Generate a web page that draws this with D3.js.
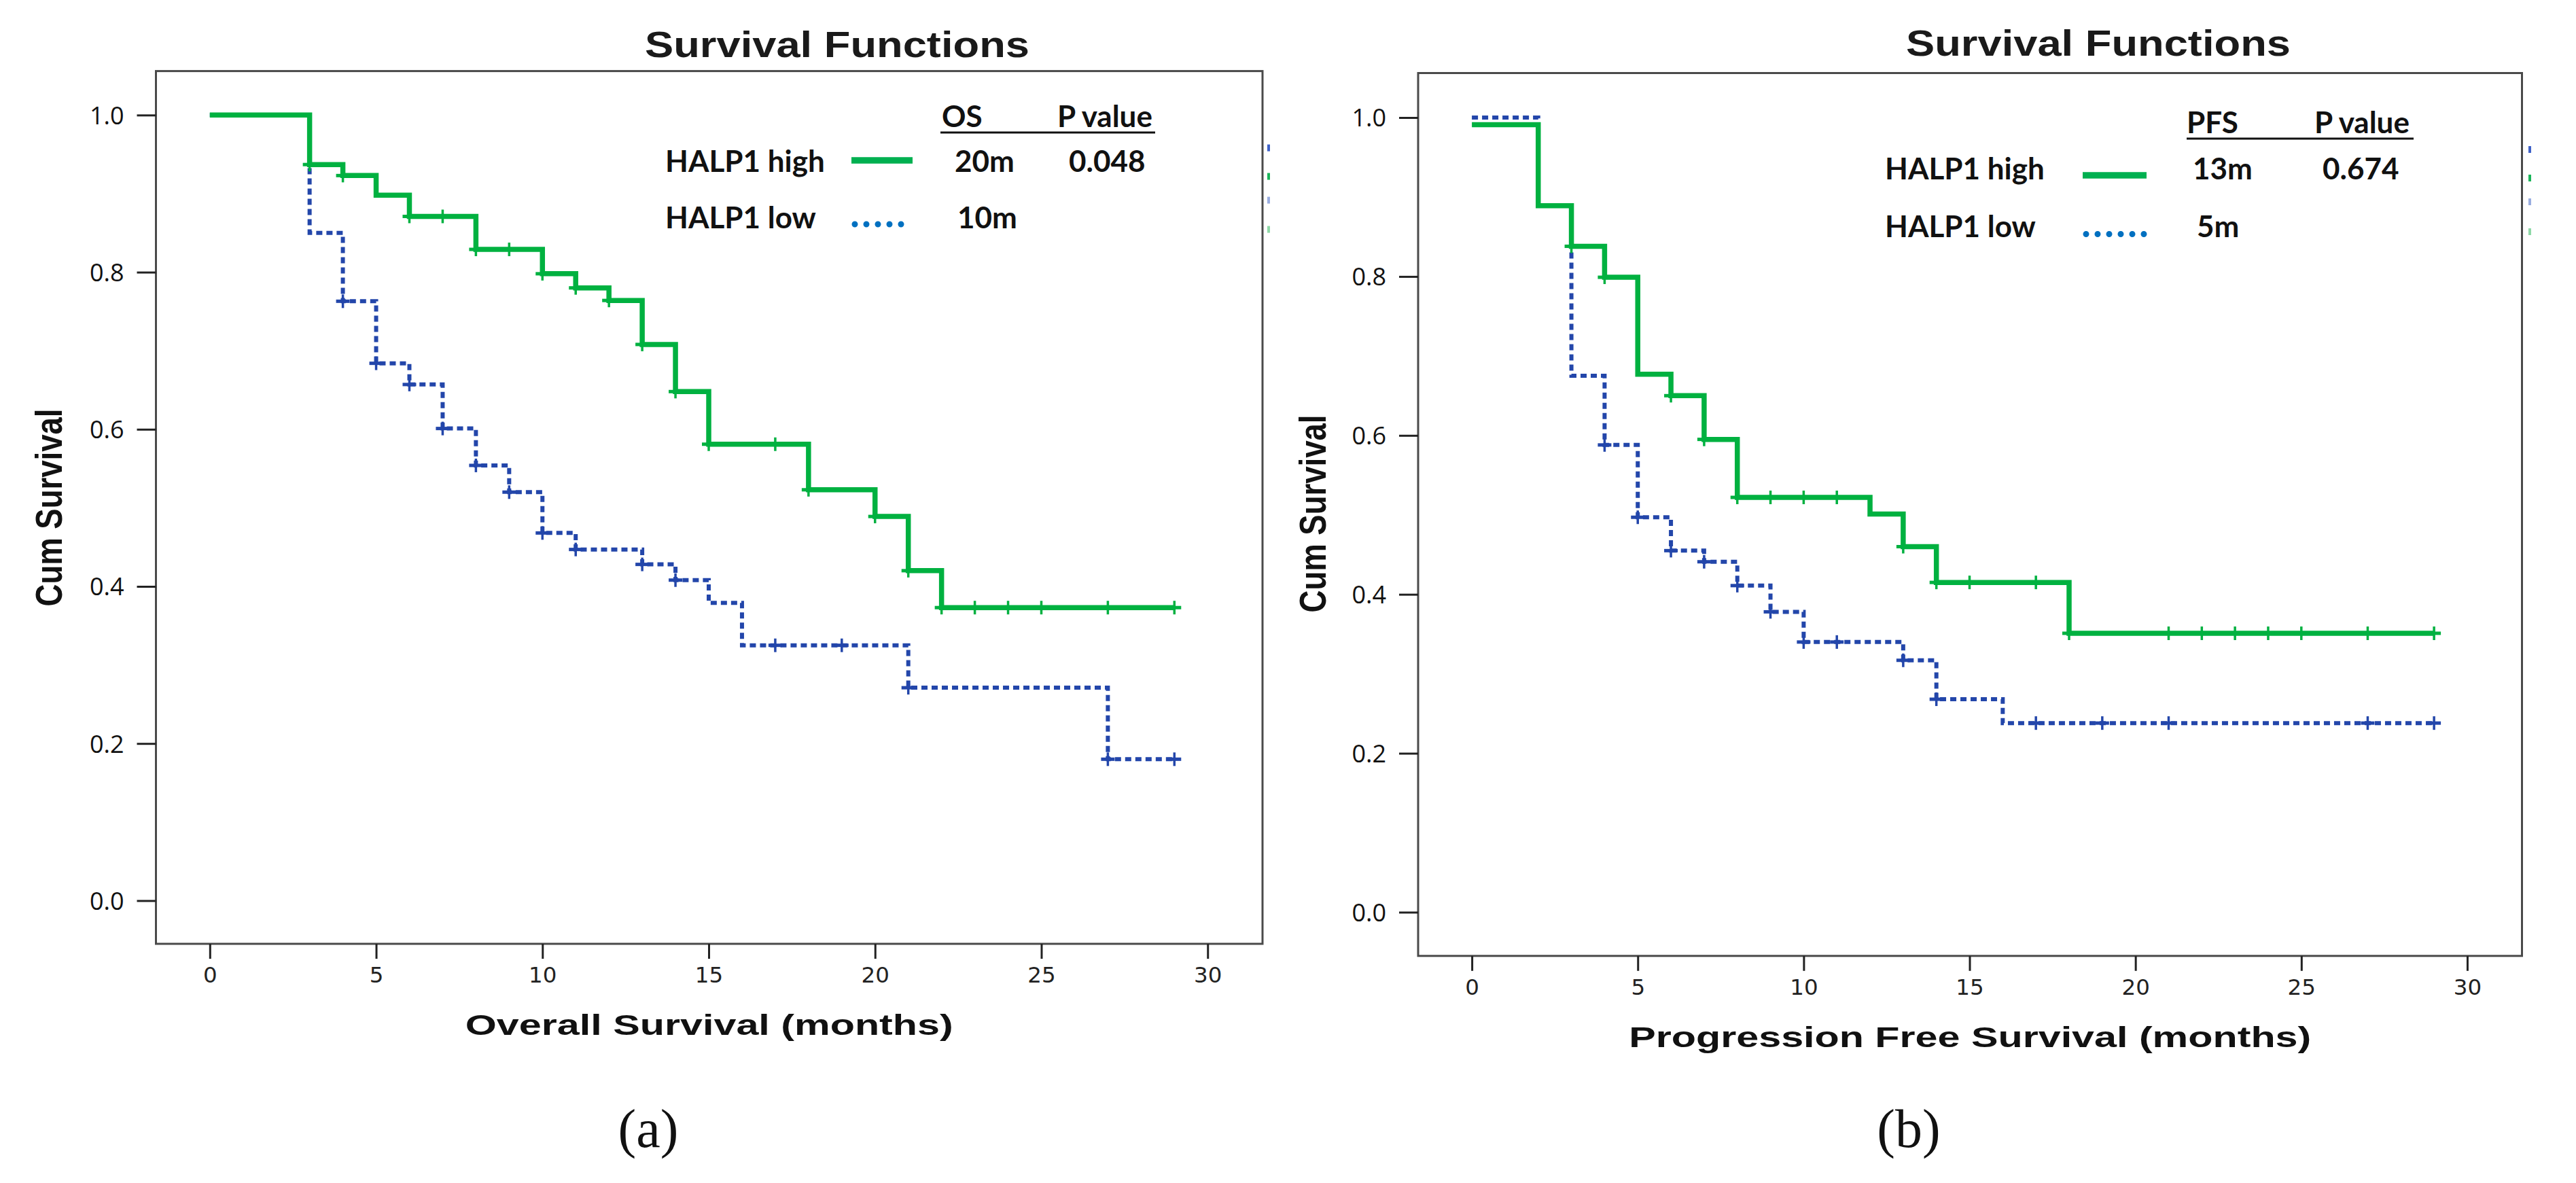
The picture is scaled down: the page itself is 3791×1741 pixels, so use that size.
<!DOCTYPE html>
<html>
<head>
<meta charset="utf-8">
<script src="https://cdn.jsdelivr.net/npm/d3@7"></script>
<style>
body { margin: 0; background: #fff; }
</style>
</head>
<body>
<div id="chart"></div>
<script>
// axis ticks shared by both panels
var xTickValues = [0, 5, 10, 15, 20, 25, 30];
var yTickValues = [0.0, 0.2, 0.4, 0.6, 0.8, 1.0];
var xDomain = [-1.62, 31.65];
var yDomain = [-0.055, 1.056];

// (a) overall survival
var osHighTime = [0, 3, 4, 5, 6, 8, 10, 11, 12, 13, 14, 15, 18, 20, 21, 22, 29];
var osHighSurv = [1.0, 0.937, 0.923, 0.898, 0.871, 0.829, 0.798, 0.780, 0.764, 0.708, 0.648, 0.581, 0.523, 0.489, 0.420, 0.373, 0.373];
var osHighCensor = [3, 4, 6, 7, 8, 9, 10, 11, 12, 13, 14, 15, 17, 18, 20, 21, 22, 23, 24, 25, 27, 29];

var osLowTime = [0, 3, 4, 5, 6, 7, 8, 9, 10, 11, 13, 14, 15, 16, 21, 27, 29];
var osLowSurv = [1.0, 0.850, 0.763, 0.684, 0.657, 0.601, 0.554, 0.520, 0.468, 0.447, 0.428, 0.408, 0.379, 0.325, 0.271, 0.180, 0.180];
var osLowCensor = [4, 5, 6, 7, 8, 9, 10, 11, 13, 14, 17, 19, 21, 27, 29];

// (b) progression free survival
var pfsHighTime = [0, 2, 3, 4, 5, 6, 7, 8, 12, 13, 14, 18, 29];
var pfsHighSurv = [0.991, 0.889, 0.838, 0.799, 0.677, 0.650, 0.595, 0.522, 0.501, 0.460, 0.415, 0.351, 0.351];
var pfsHighCensor = [3, 4, 6, 7, 8, 9, 10, 11, 13, 14, 15, 17, 18, 21, 22, 23, 24, 25, 27, 29];

var pfsLowTime = [0, 2, 3, 4, 5, 6, 7, 8, 9, 10, 13, 14, 16, 29];
var pfsLowSurv = [1.0, 0.889, 0.675, 0.588, 0.497, 0.455, 0.441, 0.411, 0.378, 0.340, 0.317, 0.268, 0.238, 0.238];
var pfsLowCensor = [4, 5, 6, 7, 8, 9, 10, 11, 13, 14, 17, 19, 21, 27, 29];

// legend texts
var groupNames = ["HALP1 high", "HALP1 low"];
var osMedians = ["20m", "10m"];
var pfsMedians = ["13m", "5m"];
var osPValue = "0.048";
var pfsPValue = "0.674";

var greenLine = "#00b140";
var blueLine = "#2346aa";
var greenKey = "#00b050";
var blueKey = "#0070c0";

var panels = [
	{
		frame: {x: 229.5, y: 104.6, w: 1628.5, h: 1284.4},
		titleX: 1232, titleY: 83.5,
		xLabel: "Overall Survival (months)", xLabelLen: 718, xLabelY: 134,
		yLabelX: 91, yLabelY: 747,
		tag: "(a)", tagX: 954,
		high: [osHighTime, osHighSurv, osHighCensor],
		low: [osLowTime, osLowSurv, osLowCensor],
		leg: {
			head: "OS", headX: 1386, pHeadX: 1556, headY: 187, ruleX: [1384, 1700], ruleY: 195,
			labelX: 979, rowY: [253, 336], keyX: [1253, 1343], keyY: [236, 330],
			valX: [1405, 1409], pX: 1573, medians: osMedians, p: osPValue
		},
		stubX: 9, stubY: [113, 155, 190, 233]
	},
	{
		frame: {x: 2087, y: 107.5, w: 1624.5, h: 1299.3},
		titleX: 3088, titleY: 82,
		xLabel: "Progression Free Survival (months)", xLabelLen: 1004, xLabelY: 134,
		yLabelX: 1951, yLabelY: 756,
		tag: "(b)", tagX: 2809,
		high: [pfsHighTime, pfsHighSurv, pfsHighCensor],
		low: [pfsLowTime, pfsLowSurv, pfsLowCensor],
		leg: {
			head: "PFS", headX: 3218, pHeadX: 3406, headY: 196, ruleX: [3218, 3552], ruleY: 204,
			labelX: 2774, rowY: [264, 349], keyX: [3065, 3159], keyY: [258, 344.5],
			valX: [3227, 3233], pX: 3418, medians: pfsMedians, p: pfsPValue
		},
		stubX: 11.5, stubY: [112.5, 154.5, 189.5, 233.5]
	}
];

var svg = d3.select("#chart").append("svg")
	.attr("width", 3791)
	.attr("height", 1741)
	.style("background", "#fff");

panels.forEach(drawPanel);

function survAt(times, surv, t) {
	var s = surv[0];
	for (var i = 0; i < times.length; i++) {
		if (times[i] <= t) s = surv[i];
	}
	return s;
}

function drawPanel(p) {
	var f = p.frame;
	var x = d3.scaleLinear().domain(xDomain).range([f.x, f.x + f.w]);
	var y = d3.scaleLinear().domain(yDomain).range([f.y + f.h, f.y]);
	var g = svg.append("g");

	// title
	g.append("text")
		.attr("x", p.titleX).attr("y", p.titleY)
		.attr("text-anchor", "middle")
		.attr("font-family", "Liberation Sans, Arial, sans-serif")
		.attr("font-weight", "bold")
		.attr("font-size", 53)
		.attr("textLength", 566)
		.attr("lengthAdjust", "spacingAndGlyphs")
		.attr("fill", "#1a1a1a")
		.text("Survival Functions");

	// frame
	g.append("rect")
		.attr("x", f.x).attr("y", f.y)
		.attr("width", f.w).attr("height", f.h)
		.attr("fill", "none")
		.attr("stroke", "#4a4a4a")
		.attr("stroke-width", 3);

	// y axis
	var ya = g.append("g")
		.attr("transform", "translate(" + f.x + ",0)")
		.call(d3.axisLeft(y).tickValues(yTickValues).tickSize(28).tickSizeOuter(0)
			.tickPadding(19).tickFormat(d3.format(".1f")));
	ya.select(".domain").remove();
	ya.selectAll("line").attr("stroke", "#222").attr("stroke-width", 3);
	ya.selectAll("text")
		.attr("dy", "0.36em")
		.attr("font-family", "Open Sans, sans-serif")
		.attr("font-size", 36)
		.attr("fill", "#111");

	// x axis
	var xa = g.append("g")
		.attr("transform", "translate(0," + (f.y + f.h) + ")")
		.call(d3.axisBottom(x).tickValues(xTickValues).tickSize(22).tickSizeOuter(0));
	xa.select(".domain").remove();
	xa.selectAll("line").attr("stroke", "#222").attr("stroke-width", 3);
	xa.selectAll("text")
		.attr("y", 57).attr("dy", null)
		.attr("font-family", "DejaVu Sans, sans-serif")
		.attr("font-size", 32.5)
		.attr("fill", "#222");

	// axis titles
	g.append("text")
		.attr("x", f.x + f.w / 2).attr("y", f.y + f.h + p.xLabelY)
		.attr("text-anchor", "middle")
		.attr("font-family", "Liberation Sans, Arial, sans-serif")
		.attr("font-weight", "bold")
		.attr("font-size", 43)
		.attr("textLength", p.xLabelLen)
		.attr("lengthAdjust", "spacingAndGlyphs")
		.attr("fill", "#111")
		.text(p.xLabel);

	g.append("text")
		.attr("transform", "translate(" + p.yLabelX + "," + p.yLabelY + ") rotate(-90)")
		.attr("text-anchor", "middle")
		.attr("font-family", "Liberation Sans, Arial, sans-serif")
		.attr("font-weight", "bold")
		.attr("font-size", 56)
		.attr("textLength", 291)
		.attr("lengthAdjust", "spacingAndGlyphs")
		.attr("fill", "#111")
		.text("Cum Survival");

	// curves: low group first, high group on top
	var line = d3.line()
		.x(function(d) { return x(d[0]); })
		.y(function(d) { return y(d[1]); })
		.curve(d3.curveStepAfter);

	drawCurve(g, line, x, y, p.low, blueLine, 6, "9,6");
	drawCurve(g, line, x, y, p.high, greenLine, 7.5, null);

	// little leftovers of the original legend at the right edge
	var stubColors = ["#3f62c8", "#1ab55a", "#9aaee0", "#8fd9a8"];
	g.selectAll(".stub").data(p.stubY).enter().append("rect")
		.attr("x", f.x + f.w + p.stubX - 2)
		.attr("y", function(d) { return f.y + d - 5; })
		.attr("width", 4).attr("height", 10)
		.attr("fill", function(d, i) { return stubColors[i]; });

	drawLegend(g, p.leg);

	// panel tag
	g.append("text")
		.attr("x", p.tagX).attr("y", 1688)
		.attr("text-anchor", "middle")
		.attr("font-family", "Liberation Serif, Times New Roman, serif")
		.attr("font-size", 80)
		.attr("fill", "#111")
		.text(p.tag);
}

function drawCurve(g, line, x, y, series, color, width, dash) {
	var times = series[0], surv = series[1], censor = series[2];
	var pts = times.map(function(t, i) { return [t, surv[i]]; });

	g.append("path")
		.datum(pts)
		.attr("d", line)
		.attr("fill", "none")
		.attr("stroke", color)
		.attr("stroke-width", width)
		.attr("stroke-dasharray", dash);

	var marks = g.append("g").selectAll("g")
		.data(censor).enter().append("g")
		.attr("transform", function(t) {
			return "translate(" + x(t) + "," + y(survAt(times, surv, t)) + ")";
		});
	marks.append("line")
		.attr("x1", 0).attr("x2", 0).attr("y1", -10).attr("y2", 10)
		.attr("stroke", color).attr("stroke-width", 3.5);
	marks.append("line")
		.attr("x1", -10).attr("x2", 10).attr("y1", 0).attr("y2", 0)
		.attr("stroke", color).attr("stroke-width", 5);
}

function drawLegend(g, leg) {
	var font = "Lato, Open Sans, sans-serif";

	g.append("text").attr("x", leg.headX).attr("y", leg.headY)
		.attr("font-family", font).attr("font-weight", "bold").attr("font-size", 44)
		.attr("fill", "#111").text(leg.head);
	g.append("text").attr("x", leg.pHeadX).attr("y", leg.headY)
		.attr("font-family", font).attr("font-weight", "bold").attr("font-size", 44)
		.attr("fill", "#111").text("P value");
	g.append("line")
		.attr("x1", leg.ruleX[0]).attr("x2", leg.ruleX[1])
		.attr("y1", leg.ruleY).attr("y2", leg.ruleY)
		.attr("stroke", "#111").attr("stroke-width", 3);

	groupNames.forEach(function(name, i) {
		g.append("text").attr("x", leg.labelX).attr("y", leg.rowY[i])
			.attr("font-family", font).attr("font-weight", "bold").attr("font-size", 44)
			.attr("fill", "#111").text(name);
		g.append("text").attr("x", leg.valX[i]).attr("y", leg.rowY[i])
			.attr("font-family", font).attr("font-weight", "bold").attr("font-size", 44)
			.attr("fill", "#111").text(leg.medians[i]);
	});

	g.append("text").attr("x", leg.pX).attr("y", leg.rowY[0])
		.attr("font-family", font).attr("font-weight", "bold").attr("font-size", 44)
		.attr("fill", "#111").text(leg.p);

	// key samples
	g.append("line")
		.attr("x1", leg.keyX[0]).attr("x2", leg.keyX[1])
		.attr("y1", leg.keyY[0]).attr("y2", leg.keyY[0])
		.attr("stroke", greenKey).attr("stroke-width", 9.5);
	g.append("line")
		.attr("x1", leg.keyX[0] + 5).attr("x2", leg.keyX[1])
		.attr("y1", leg.keyY[1]).attr("y2", leg.keyY[1])
		.attr("stroke", blueKey).attr("stroke-width", 9)
		.attr("stroke-linecap", "round")
		.attr("stroke-dasharray", "0,17");
}
</script>
</body>
</html>
